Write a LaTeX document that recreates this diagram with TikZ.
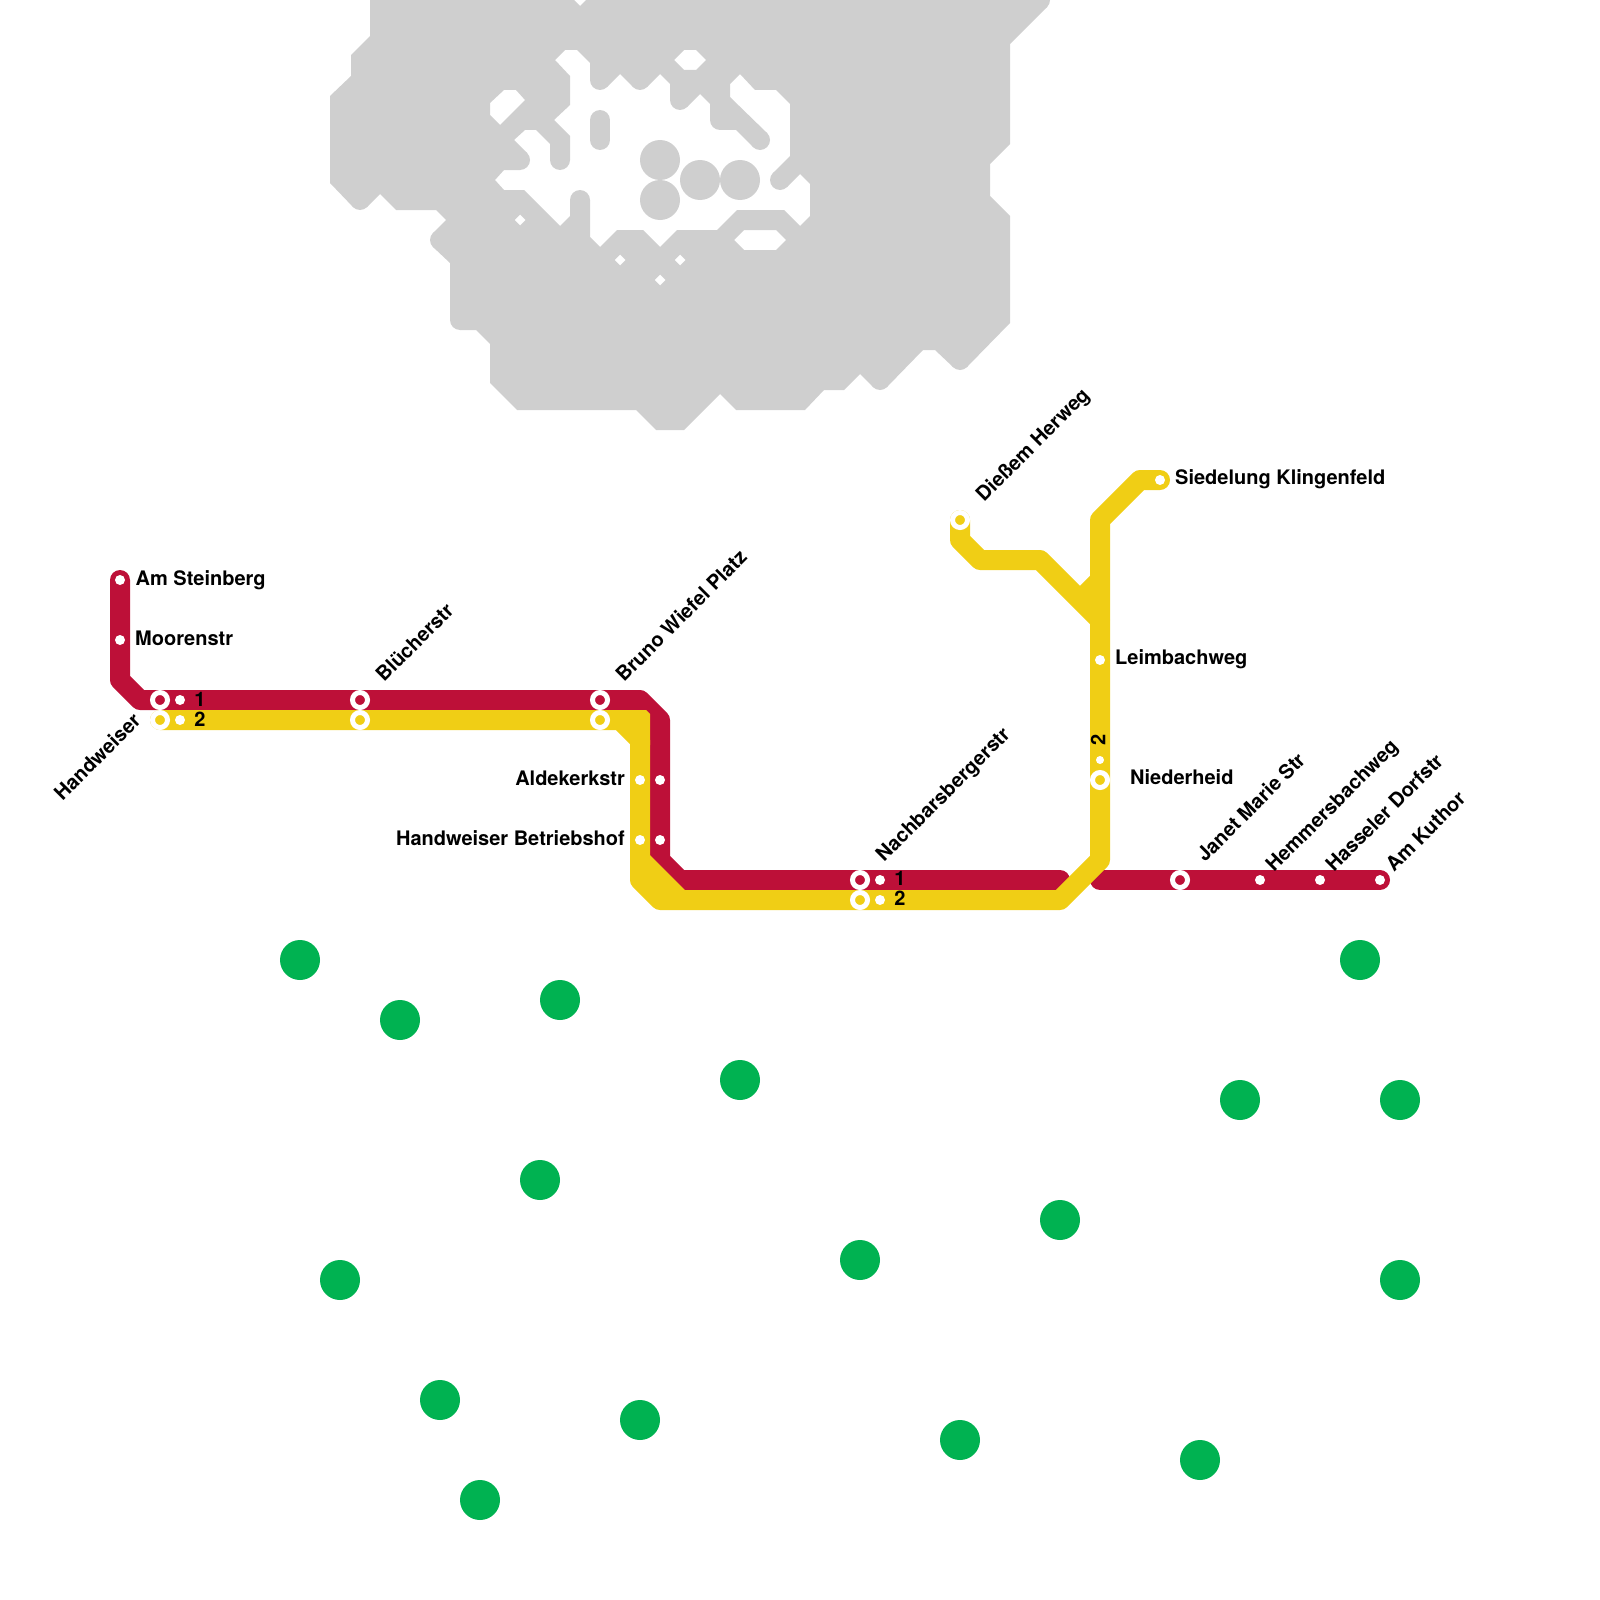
\documentclass[tikz,border=0pt]{standalone}
\usepackage{fontspec}
\setmainfont{TeX Gyre Heros}
\usetikzlibrary{backgrounds}
\definecolor{linered}{HTML}{BD1038}
\definecolor{lineyellow}{HTML}{F0CE15}
\definecolor{parkgreen}{HTML}{00B251}
\definecolor{lakegray}{HTML}{CFCFCF}
\tikzset{
 redline/.style={draw=linered,line width=20pt,line cap=round,line join=round},
 yellowline/.style={draw=lineyellow,line width=20pt,line cap=round,line join=round},
 ringred/.style={circle,inner sep=0pt,minimum size=15pt,draw=white,line width=5pt,fill=linered},
 ringyellow/.style={circle,inner sep=0pt,minimum size=15pt,draw=white,line width=5pt,fill=lineyellow},
 stopdot/.style={circle,inner sep=0pt,minimum size=10pt,fill=white},
 smalldot/.style={circle,inner sep=0pt,minimum size=8pt,fill=white},
 park/.style={circle,inner sep=0pt,minimum size=40pt,fill=parkgreen},
 lakedisc/.style={circle,inner sep=0pt,minimum size=40pt,fill=lakegray},
 lobe/.style={circle,inner sep=0pt,minimum size=20pt,fill=lakegray},
 lbl/.style={font=\fontsize{20}{20}\selectfont\bfseries,inner sep=0pt,text=black},
 lblw/.style={lbl,anchor=base west},
 lble/.style={lbl,anchor=base east},
 lbld/.style={lbl,anchor=base west,rotate=45},
}
\begin{document}
\begin{tikzpicture}[x=1pt,y=-1pt]
\useasboundingbox (0,0) rectangle (1600,1600);
% lake
\fill[lakegray,even odd rule]
 (370,0)--(370,36)--(351,55)--(351,76)--(330,96)--(330,183)--(353,207)--(367,207)--(380,194)--(396,210)--(436,210)--(446,220)--(433,233)--(433,247)--(450,263)--(450,320)--(460,330)--(476,330)--(490,344)--(490,383)--(517,410)--(636,410)--(656,430)--(684,430)--(720,394)--(736,410)--(805,410)--(824,390)--(844,390)--(860,374)--(873,387)--(887,387)--(923,350)--(935,350)--(953,367)--(967,367)--(1010,323)--(1010,216)--(990,196)--(990,164)--(1010,144)--(1010,44)--(1047,7)--(1047,0)--(586,0)--(580,6)--(574,0)--cycle
 (555,60)--(565,50)--(577,50)--(590,63)--(590,80)--(600,80)--(607,87)--(620,74)--(633,87)--(640,80)--(647,87)--(660,74)--(670,84)--(670,100)--(680,100)--(687,107)--(700,94)--(710,104)--(710,120)--(720,120)--(720,130)--(736,130)--(753,147)--(760,140)--(767,133)--(730,97)--(730,84)--(740,74)--(755,90)--(776,90)--(790,104)--(790,156)--(773,173)--(780,180)--(787,187)--(800,174)--(810,184)--(810,216)--(800,226)--(784,210)--(737,210)--(717,230)--(677,230)--(660,247)--(643,230)--(617,230)--(600,247)--(590,237)--(590,200)--(570,200)--(570,216)--(560,226)--(524,190)--(504,190)--(495,180)--(504,170)--(520,170)--(520,160)--(527,153)--(514,140)--(525,130)--(536,130)--(550,144)--(550,160)--(570,160)--(570,136)--(554,120)--(570,105)--(570,76)--cycle
 (490,103)--(504,90)--(516,90)--(525,100)--(500,125)--(490,115)--cycle
 (674,60)--(684,50)--(696,50)--(706,60)--(696,70)--(684,70)--cycle
 (734,240)--(744,230)--(776,230)--(786,240)--(776,250)--(744,250)--cycle
 (514.5,220)--(520,214.5)--(525.5,220)--(520,225.5)--cycle
 (614.5,260)--(620,254.5)--(625.5,260)--(620,265.5)--cycle
 (674.5,260)--(680,254.5)--(685.5,260)--(680,265.5)--cycle
 (654.5,280)--(660,274.5)--(665.5,280)--(660,285.5)--cycle;
\foreach \n/\p in {a/{600,80},b/{640,80},c/{680,100},d/{720,120},e/{760,140},f/{780,180},g/{580,200},h/{520,160},i/{560,160},j/{360,200},k/{440,240},l/{460,320},m/{880,380},n/{960,360},o/{1040,0}}
  \node[lobe] (lobe\n) at (\p) {};
\draw[lakegray,line width=20pt,line cap=round] (600,120)--(600,140);
\node[lakedisc] (disc1) at (660,160) {};
\node[lakedisc] (disc2) at (660,200) {};
\node[lakedisc] (disc3) at (700,180) {};
\node[lakedisc] (disc4) at (740,180) {};
% parks
\foreach \n/\p in {1/{300,960},2/{400,1020},3/{560,1000},4/{740,1080},5/{540,1180},6/{340,1280},7/{440,1400},8/{480,1500},9/{640,1420},10/{860,1260},11/{1060,1220},12/{960,1440},13/{1200,1460},14/{1240,1100},15/{1360,960},16/{1400,1100},17/{1400,1280}}
  \node[park] (park\n) at (\p) {};
% stations
\node[stopdot] (amstein) at (120,580) {};
\node[stopdot] (mooren) at (120,640) {};
\node[ringred] (handR) at (160,700) {};
\node[ringyellow] (handY) at (160,720) {};
\node[stopdot] (handR2) at (180,700) {};
\node[stopdot] (handY2) at (180,720) {};
\node[ringred] (bluR) at (360,700) {};
\node[ringyellow] (bluY) at (360,720) {};
\node[ringred] (bruR) at (600,700) {};
\node[ringyellow] (bruY) at (600,720) {};
\node[stopdot] (aldY) at (640,780) {};
\node[stopdot] (aldR) at (660,780) {};
\node[stopdot] (betY) at (640,840) {};
\node[stopdot] (betR) at (660,840) {};
\node[ringred] (nacR) at (860,880) {};
\node[ringyellow] (nacY) at (860,900) {};
\node[stopdot] (nacR2) at (880,880) {};
\node[stopdot] (nacY2) at (880,900) {};
\node[ringyellow] (dies) at (960,520) {};
\node[stopdot] (sied) at (1160,480) {};
\node[stopdot] (leim) at (1100,660) {};
\node[smalldot] (nied2) at (1100,760) {};
\node[ringyellow] (nied) at (1100,780) {};
\node[ringred] (janet) at (1180,880) {};
\node[stopdot] (hemm) at (1260,880) {};
\node[stopdot] (hass) at (1320,880) {};
\node[stopdot] (kuth) at (1380,880) {};
% waypoints
\coordinate (r1) at (120,680); \coordinate (r2) at (140,700);
\coordinate (r3) at (640,700); \coordinate (r4) at (660,720);
\coordinate (r5) at (660,860); \coordinate (r6) at (680,880);
\coordinate (r7) at (1060,880); \coordinate (r8) at (1100,880);
\coordinate (y1) at (620,720); \coordinate (y2) at (640,740);
\coordinate (y3) at (640,880); \coordinate (y4) at (660,900);
\coordinate (y5) at (1060,900); \coordinate (y6) at (1100,860);
\coordinate (y7) at (1100,520); \coordinate (y8) at (1140,480);
\coordinate (b1) at (960,540); \coordinate (b2) at (980,560);
\coordinate (b3) at (1040,560); \coordinate (b4) at (1100,620);
\coordinate (b5) at (1080,600); \coordinate (b6) at (1100,580);
\begin{scope}[on background layer]
\draw[redline] (amstein.center)--(mooren.center)--(r1)--(r2)--(r3)--(r4)--(r5)--(r6)--(r7);
\draw[redline] (r8)--(janet.center)--(hemm.center)--(hass.center)--(kuth.center);
\draw[yellowline] (handY.center)--(y1)--(y2)--(y3)--(y4)--(y5)--(y6)--(y7)--(y8)--(sied.center);
\draw[yellowline] (dies.center)--(b1)--(b2)--(b3)--(b4);
\draw[lineyellow,line width=20pt] (b5)--(b6);
\fill[lineyellow] (610,710)--(646,710)--(650,714)--(650,745)--(635,745)--(610,722)--cycle;
\fill[lineyellow] (630,835)--(650,855)--(685,890)--(650,900)--(630,880)--cycle;
\end{scope}
% labels
\node[lblw] (tAm) at (135.5,585) {Am Steinberg};
\node[lblw] (tMo) at (135,645) {Moorenstr};
\node[lbl,anchor=base east,rotate=45] (tHa) at (142,722) {Handweiser};
\node[lbl] (tH1) at (200,699) {1};
\node[lbl] (tH2) at (200,719) {2};
\node[lbld] (tBl) at (384,683) {Blücherstr};
\node[lbld] (tBr) at (624,683) {Bruno Wiefel Platz};
\node[lble] (tAl) at (625,785) {Aldekerkstr};
\node[lble] (tBe) at (625,845) {Handweiser Betriebshof};
\node[lbld] (tNa) at (884,863) {Nachbarsbergerstr};
\node[lbl] (tN1) at (900,878) {1};
\node[lbl] (tN2) at (900,898) {2};
\node[lbld] (tDi) at (984,503) {Dießem Herweg};
\node[lblw] (tSi) at (1175,484) {Siedelung Klingenfeld};
\node[lblw] (tLe) at (1115,664) {Leimbachweg};
\node[lbl,rotate=90] (tN3) at (1098,740) {2};
\node[lblw] (tNi) at (1130,784) {Niederheid};
\node[lbld] (tJa) at (1205,863) {Janet Marie Str};
\node[lbld] (tHe) at (1274,873) {Hemmersbachweg};
\node[lbld] (tHs) at (1334,873) {Hasseler Dorfstr};
\node[lbld] (tKu) at (1394,873) {Am Kuthor};
\end{tikzpicture}
\end{document}
